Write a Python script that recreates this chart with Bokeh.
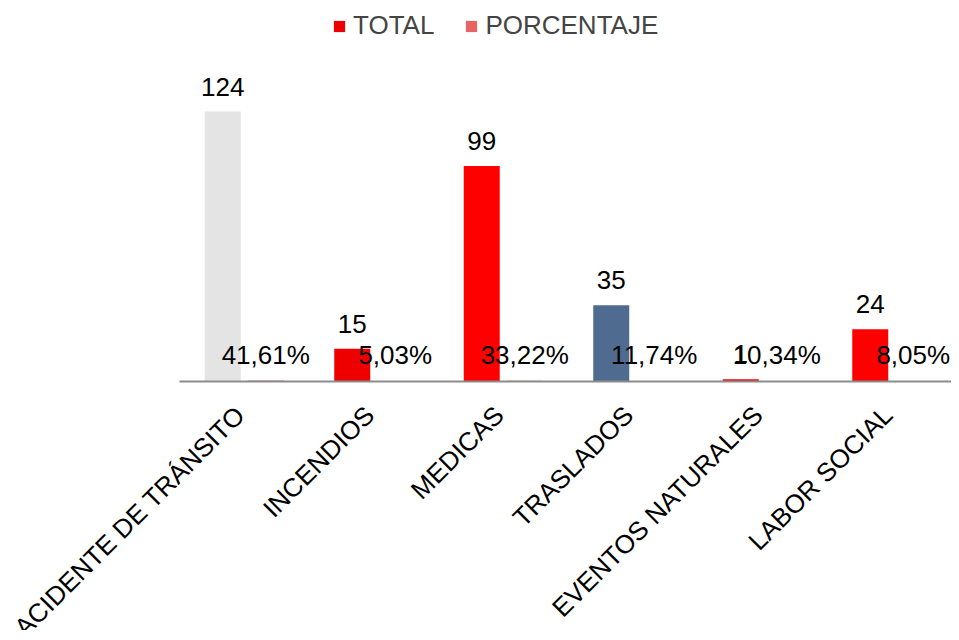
import math
from bokeh.plotting import figure
from bokeh.models import ColumnDataSource, LabelSet, Legend, LegendItem, Range1d
from bokeh.core.properties import value
from bokeh.transform import dodge
from bokeh.embed import file_html
from bokeh.resources import INLINE

categories = ["ACIDENTE DE TRÁNSITO", "INCENDIOS", "MEDICAS", "TRASLADOS",
              "EVENTOS NATURALES", "LABOR SOCIAL"]
total = [124, 15, 99, 35, 1, 24]
porcentaje = [41.61, 5.03, 33.22, 11.74, 10.34, 8.05]
total_labels = ["124", "15", "99", "35", "1", "24"]
pct_labels = ["41,61%", "5,03%", "33,22%", "11,74%", "10,34%", "8,05%"]
bar_colors = ["#e4e4e4", "#ee0000", "#ff0000", "#4f6b90", "#ff0000", "#ff0000"]
pct_label_shift = [0, 0, 0, 0, -7, 0]   # screen px nudges of percentage labels

FONT = "Liberation Sans"
n = len(categories)
pos = [i + 0.5 for i in range(n)]

src = ColumnDataSource(dict(
    x=pos,
    cat=categories,
    total=total,
    pct=[v / 100 for v in porcentaje],
    tlab=total_labels,
    plab=pct_labels,
    color=bar_colors,
    pdx=pct_label_shift,
    zero=[0] * n,
))

W, H = 951, 630
x0_px, base_px = 179.0, 381.0      # page position of category start and baseline
cat_px, unit_px = 129.5, 2.177     # pixel size of one category / one unit

p = figure(x_range=Range1d(-x0_px / cat_px, (W - x0_px) / cat_px),
           y_range=Range1d(-(H - base_px) / unit_px, base_px / unit_px),
           width=W, height=H, output_backend="svg", toolbar_location=None,
           x_axis_location=None, y_axis_location=None,
           min_border_left=0, min_border_right=0, min_border_top=0, min_border_bottom=0)
p.outline_line_color = None
p.xgrid.grid_line_color = None
p.ygrid.grid_line_color = None
p.background_fill_color = "white"

off = 21.5 / cat_px
bw = 36.0 / cat_px
r_total = p.vbar(x=dodge("x", -off), top="total", width=bw,
                 source=src, fill_color="color", line_color=None)
r_pct = p.vbar(x=dodge("x", off), top="pct", width=bw,
               source=src, fill_color="#e86464", line_color=None)

# category axis line along y = 0
p.segment(x0=[0], y0=[0], x1=[n], y1=[0], line_color="#8c8c8c", line_width=2)

p.add_layout(LabelSet(x=dodge("x", -off), y="total", text="tlab",
                      source=src, text_align="center", text_baseline="alphabetic",
                      y_offset=16, text_font=value(FONT), text_font_size="26px",
                      text_color="#000000"))
p.add_layout(LabelSet(x=dodge("x", off), y="pct", text="plab",
                      source=src, text_align="center", text_baseline="alphabetic",
                      x_offset="pdx", y_offset=17, text_font=value(FONT),
                      text_font_size="26px", text_color="#000000"))

# rotated category labels
p.text(x="x", y="zero", text="cat", source=src, angle=math.pi / 4,
       text_align="right", text_baseline="alphabetic", x_offset=-4, y_offset=29,
       text_font=value(FONT), text_font_size="26px", text_color="#000000")

legend = Legend(items=[LegendItem(label="TOTAL", renderers=[r_total], index=1),
                       LegendItem(label="PORCENTAJE", renderers=[r_pct], index=0)],
                orientation="horizontal", location=(332, 589))
legend.label_text_font = FONT
legend.label_text_font_size = "26px"
legend.glyph_width = 14
legend.glyph_height = 14
legend.label_standoff = 7
legend.spacing = 30
legend.padding = 0
legend.margin = 0
legend.border_line_color = None
legend.background_fill_alpha = 0
p.add_layout(legend)

open("out.html", "w").write(file_html(p, INLINE))
